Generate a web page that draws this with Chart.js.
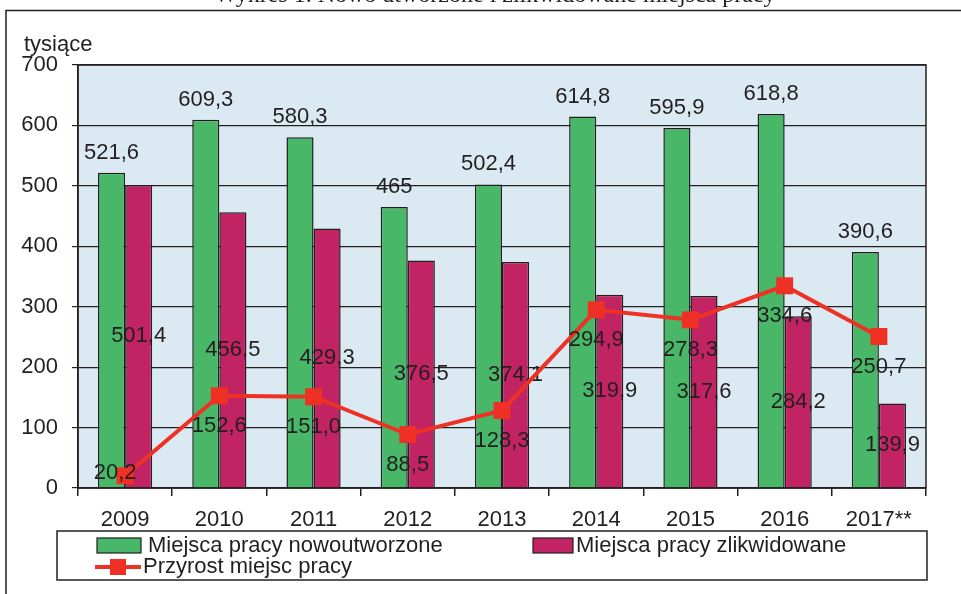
<!DOCTYPE html>
<html lang="pl">
<head>
  <meta charset="UTF-8" />
  <title>Miejsca pracy</title>
  <script src="https://cdn.jsdelivr.net/npm/chart.js"></script>
  <style>
    body { margin: 0; background: #fff; }
    #wrap { width: 961px; height: 594px; }
  </style>
</head>
<body>
  <div id="wrap"><canvas id="jobsChart" width="961" height="594"></canvas></div>

  <script>
    const years = ['2009', '2010', '2011', '2012', '2013', '2014', '2015', '2016', '2017**'];
    const created = [521.6, 609.3, 580.3, 465, 502.4, 614.8, 595.9, 618.8, 390.6];
    const liquidated = [501.4, 456.5, 429.3, 376.5, 374.1, 319.9, 317.6, 284.2, 139.9];
    const growth = [20.2, 152.6, 151.0, 88.5, 128.3, 294.9, 278.3, 334.6, 250.7];

    const FONT = '"Liberation Sans", Arial, sans-serif';
    const INK = '#231f20';
    const GREEN = '#48b868';
    const MAGENTA = '#c12363';
    const RED = '#ee3124';

    const fmtPlain = v => String(v).replace('.', ',');
    const fmtOne = v => v.toFixed(1).replace('.', ',');

    // background of plot area, outer frame, partial title, unit label
    const framePlugin = {
      id: 'frame',
      beforeDraw(chart) {
        const { ctx, chartArea: a } = chart;
        ctx.save();
        ctx.fillStyle = '#dbeaf2';
        ctx.fillRect(a.left, a.top, a.right - a.left, a.bottom - a.top);

        ctx.strokeStyle = INK;
        ctx.lineWidth = 1.5;
        ctx.beginPath();
        ctx.moveTo(6, 594);
        ctx.lineTo(6, 10.5);
        ctx.lineTo(961, 10.5);
        ctx.stroke();

        ctx.fillStyle = INK;
        ctx.font = '24px "Liberation Serif", serif';
        ctx.textAlign = 'center';
        ctx.textBaseline = 'alphabetic';
        ctx.fillText('Wykres 1. Nowo utworzone i zlikwidowane miejsca pracy', 495, 2);

        ctx.font = '22px ' + FONT;
        ctx.textAlign = 'left';
        ctx.textBaseline = 'middle';
        ctx.fillText('tysiące', 24, 45);
        ctx.restore();
      },
      afterDatasetsDraw(chart) {
        const { ctx, chartArea: a } = chart;
        ctx.save();
        ctx.strokeStyle = INK;
        ctx.lineWidth = 1.5;
        ctx.strokeRect(a.left, a.top, a.right - a.left, a.bottom - a.top);
        ctx.restore();
      }
    };

    // value labels: bar labels once both bar sets are drawn, line labels after the line
    const labelPlugin = {
      id: 'valueLabels',
      afterDatasetDraw(chart, args) {
        const { ctx, chartArea: a } = chart;
        const sets = chart.data.datasets;
        ctx.save();
        ctx.font = '22px ' + FONT;
        ctx.fillStyle = INK;
        ctx.textAlign = 'center';
        ctx.textBaseline = 'middle';
        if (args.index === 2) {
          args.meta.data.forEach((el, i) => {
            let lx = el.x, ly = el.y + 30;
            if (ly > a.bottom - 12) { lx = el.x - 10; ly = el.y - 3; }
            ctx.fillText(fmtOne(sets[2].data[i]), lx, ly);
          });
        } else if (args.index === 0) {
          chart.getDatasetMeta(0).data.forEach((el, i) => {
            ctx.fillText(fmtPlain(sets[0].data[i]), el.x, el.y - 20);
          });
          chart.getDatasetMeta(1).data.forEach((el, i) => {
            ctx.fillText(fmtOne(sets[1].data[i]), el.x, (el.y + el.base) / 2);
          });
        }
        ctx.restore();
      }
    };

    // legend box below the axis
    const legendPlugin = {
      id: 'boxLegend',
      afterDraw(chart) {
        const { ctx } = chart;
        const sets = chart.data.datasets;
        ctx.save();
        ctx.strokeStyle = INK;
        ctx.lineWidth = 1.5;
        ctx.strokeRect(57, 531, 870, 49);

        ctx.font = '22px ' + FONT;
        ctx.textBaseline = 'middle';
        ctx.textAlign = 'left';
        ctx.lineWidth = 1.2;

        ctx.fillStyle = GREEN;
        ctx.fillRect(97, 538, 44, 15);
        ctx.strokeRect(97, 538, 44, 15);
        ctx.fillStyle = INK;
        ctx.fillText(sets[0].label, 148, 546);

        ctx.fillStyle = MAGENTA;
        ctx.fillRect(533, 538, 40, 15);
        ctx.strokeRect(533, 538, 40, 15);
        ctx.fillStyle = INK;
        ctx.fillText(sets[1].label, 576, 546);

        ctx.strokeStyle = RED;
        ctx.lineWidth = 4;
        ctx.beginPath();
        ctx.moveTo(95, 567);
        ctx.lineTo(141, 567);
        ctx.stroke();
        ctx.fillStyle = RED;
        ctx.fillRect(110, 559, 16, 16);
        ctx.fillStyle = INK;
        ctx.fillText(sets[2].label, 143, 567);
        ctx.restore();
      }
    };

    new Chart(document.getElementById('jobsChart'), {
      type: 'bar',
      data: {
        labels: years,
        datasets: [
          {
            label: 'Miejsca pracy nowoutworzone',
            data: created,
            backgroundColor: GREEN,
            borderColor: INK,
            borderWidth: 1.5,
            categoryPercentage: 0.575,
            barPercentage: 1.0,
            order: 1
          },
          {
            label: 'Miejsca pracy zlikwidowane',
            data: liquidated,
            backgroundColor: MAGENTA,
            borderColor: INK,
            borderWidth: 1.5,
            categoryPercentage: 0.575,
            barPercentage: 1.0,
            order: 1
          },
          {
            type: 'line',
            label: 'Przyrost miejsc pracy',
            data: growth,
            borderColor: RED,
            backgroundColor: RED,
            borderWidth: 4,
            pointStyle: 'rect',
            pointRadius: 12,
            pointBorderWidth: 0,
            tension: 0,
            order: 0
          }
        ]
      },
      options: {
        responsive: false,
        animation: false,
        layout: { padding: { left: 0, top: 65, right: 35, bottom: 61 } },
        plugins: {
          legend: { display: false },
          tooltip: { enabled: false }
        },
        scales: {
          x: {
            offset: true,
            grid: {
              display: true,
              offset: true,
              drawOnChartArea: false,
              drawTicks: true,
              tickLength: 8,
              color: INK,
              lineWidth: 1.5
            },
            border: { display: true, color: INK, width: 1.5 },
            ticks: { font: { family: FONT, size: 22 }, color: INK, padding: 11 },
            afterFit: s => { s.height = 45; }
          },
          y: {
            min: 0,
            max: 700,
            ticks: { stepSize: 100, font: { family: FONT, size: 22 }, color: INK, padding: 14 },
            grid: { color: INK, lineWidth: 1.2, tickLength: 6 },
            border: { display: true, color: INK, width: 1.5 },
            afterFit: s => { s.width = 78; }
          }
        }
      },
      plugins: [framePlugin, labelPlugin, legendPlugin]
    });
  </script>
</body>
</html>
